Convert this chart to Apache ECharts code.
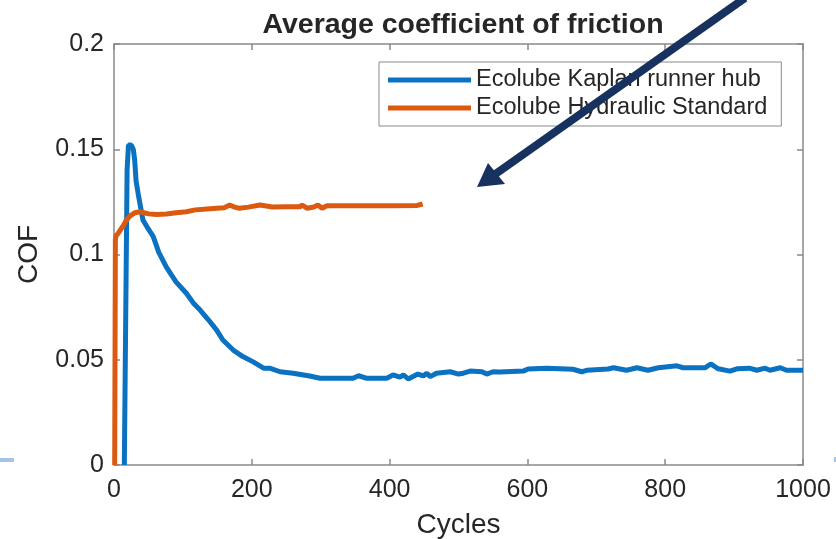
<!DOCTYPE html>
<html>
<head>
<meta charset="utf-8">
<script src="https://cdn.jsdelivr.net/npm/echarts@6/dist/echarts.min.js"></script>
<style>
  html, body { margin: 0; padding: 0; background: #ffffff; }
  #chart { width: 836px; height: 539px; }
</style>
</head>
<body>
<div id="chart"></div>
<script>
// Ecolube Kaplan runner hub
var kaplanCycles = [15, 19, 21, 25, 28, 30, 32, 35, 42, 50, 57, 65, 76, 90, 105, 115, 125, 137, 149, 158, 173, 187, 202, 217, 226, 241, 260, 284, 299, 347, 355, 367, 396, 405, 415, 420, 427, 441, 449, 454, 459, 468, 488, 500, 507, 517, 534, 541, 550, 560, 594, 601, 628, 666, 679, 686, 717, 725, 744, 759, 775, 790, 817, 826, 858, 866, 877, 894, 904, 922, 933, 945, 952, 967, 976, 1000]
var kaplanCof = [0, 0.14, 0.152, 0.152, 0.150, 0.145, 0.135, 0.129, 0.1164, 0.112, 0.1085, 0.101, 0.094, 0.087, 0.0816, 0.077, 0.0736, 0.069, 0.0641, 0.0594, 0.0546, 0.0515, 0.049, 0.046, 0.046, 0.0443, 0.0436, 0.0423, 0.0412, 0.0412, 0.0424, 0.0412, 0.0412, 0.0428, 0.0417, 0.0428, 0.0409, 0.0432, 0.0423, 0.0436, 0.042, 0.0436, 0.0443, 0.0432, 0.0436, 0.0446, 0.0443, 0.0432, 0.0443, 0.0442, 0.0446, 0.0456, 0.046, 0.0455, 0.0443, 0.045, 0.0456, 0.0462, 0.045, 0.0462, 0.045, 0.0462, 0.0471, 0.0462, 0.0462, 0.048, 0.0457, 0.0446, 0.0457, 0.046, 0.045, 0.046, 0.045, 0.0462, 0.045, 0.045]

// Ecolube Hydraulic Standard
var hydraulicCycles = [1, 2, 3, 6, 10, 14, 18, 24, 30, 38, 50, 62, 76, 90, 105, 118, 130, 149, 160, 168, 175, 182, 195, 212, 230, 250, 270, 273, 280, 290, 296, 302, 309, 330, 360, 400, 440, 448]
var hydraulicCof = [0, 0.107, 0.109, 0.110, 0.112, 0.114, 0.1164, 0.1185, 0.1198, 0.1203, 0.1193, 0.119, 0.1192, 0.1198, 0.1203, 0.1212, 0.1215, 0.122, 0.1222, 0.1235, 0.1225, 0.122, 0.1225, 0.1235, 0.1226, 0.1227, 0.1227, 0.1235, 0.122, 0.1226, 0.1235, 0.122, 0.1232, 0.1232, 0.1232, 0.1232, 0.1233, 0.124]

var seriesNames = ['Ecolube Kaplan runner hub', 'Ecolube Hydraulic Standard']

function pairs(xs, ys) {
  var out = []
  for (var i = 0; i < xs.length; i++) {
    out.push([xs[i], ys[i]])
  }
  return out
}

var axisGray = '#8a8a8a'
var textDark = '#262626'
var font = 'Liberation Sans, Arial, sans-serif'

// shared look of the box axes
function boxLine() {
  return { show: true, onZero: false, lineStyle: { color: axisGray, width: 1.5 } }
}
function boxTick() {
  return { show: true, inside: true, length: 6, lineStyle: { color: axisGray, width: 1.5 } }
}

var chart = echarts.init(document.getElementById('chart'))
var option = {
  animation: false,
  title: {
    text: 'Average coefficient of friction',
    left: 458,
    textAlign: 'center',
    top: 6,
    textStyle: { color: textDark, fontSize: 28.5, fontWeight: 'bold', fontFamily: font }
  },
  legend: {
    data: seriesNames,
    orient: 'vertical',
    left: 379,
    top: 62,
    padding: [6, 14, 6, 9],
    itemGap: 4,
    itemWidth: 83,
    itemHeight: 5,
    icon: 'rect',
    borderColor: '#8a8a8a',
    borderWidth: 1,
    backgroundColor: '#ffffff',
    textStyle: { color: textDark, fontSize: 23.5, fontFamily: font }
  },
  grid: { left: 114, right: 33, top: 44, bottom: 74, outerBoundsMode: 'none' },
  xAxis: [
    {
      type: 'value', min: 0, max: 1000, interval: 200,
      name: 'Cycles', nameLocation: 'middle', nameGap: 46,
      nameTextStyle: { color: textDark, fontSize: 28, fontFamily: font },
      axisLine: boxLine(),
      axisTick: boxTick(),
      axisLabel: { color: textDark, fontSize: 25, fontFamily: font, margin: 13, formatter: function(v) { return String(v) } },
      splitLine: { show: false }
    },
    {
      type: 'value', min: 0, max: 1000, interval: 200, position: 'top',
      axisLine: boxLine(),
      axisTick: boxTick(),
      axisLabel: { show: false },
      splitLine: { show: false }
    }
  ],
  yAxis: [
    {
      type: 'value', min: 0, max: 0.2, interval: 0.05,
      name: 'COF', nameLocation: 'middle', nameGap: 71,
      nameTextStyle: { color: textDark, fontSize: 28, fontFamily: font },
      axisLine: boxLine(),
      axisTick: boxTick(),
      axisLabel: { color: textDark, fontSize: 25, fontFamily: font, margin: 10 },
      splitLine: { show: false }
    },
    {
      type: 'value', min: 0, max: 0.2, interval: 0.05, position: 'right',
      axisLine: boxLine(),
      axisTick: boxTick(),
      axisLabel: { show: false },
      splitLine: { show: false }
    }
  ],
  series: [
    {
      name: seriesNames[0],
      type: 'line',
      data: pairs(kaplanCycles, kaplanCof),
      showSymbol: false,
      symbol: 'none',
      color: '#0b72c2',
      lineStyle: { width: 5, color: '#0b72c2' }
    },
    {
      name: seriesNames[1],
      type: 'line',
      data: pairs(hydraulicCycles, hydraulicCof),
      showSymbol: false,
      symbol: 'none',
      color: '#db5a10',
      lineStyle: { width: 5, color: '#db5a10' }
    }
  ],
  graphic: [
    // slide decorations
    { type: 'rect', shape: { x: 0, y: 458, width: 14, height: 4 }, style: { fill: '#a8c3e3' } },
    { type: 'rect', shape: { x: 834, y: 457, width: 2, height: 5 }, style: { fill: '#a8c3e3' } },
    // arrow annotation
    { type: 'line', shape: { x1: 745, y1: -2, x2: 494, y2: 175 }, style: { stroke: '#17325e', lineWidth: 8 }, z: 100 },
    { type: 'polygon', shape: { points: [[477, 187], [488, 163], [505, 184]] }, style: { fill: '#17325e' }, z: 100 }
  ]
}
chart.setOption(option)
</script>
</body>
</html>
